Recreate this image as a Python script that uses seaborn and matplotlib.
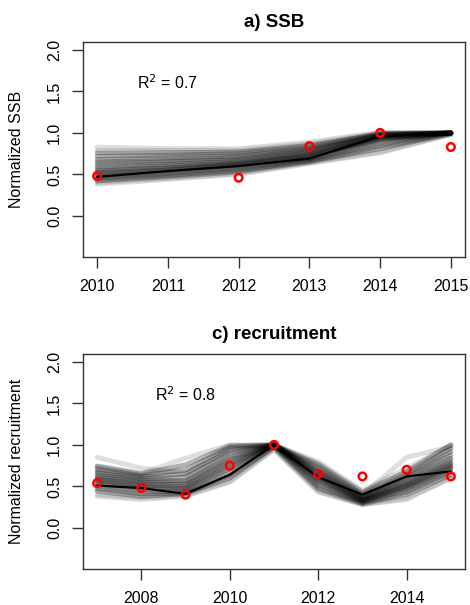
import numpy as np
import pandas as pd
import matplotlib
matplotlib.use("Agg")
import matplotlib.pyplot as plt
import seaborn as sns

# ---- data ----
ssb_years = [2010, 2011, 2012, 2013, 2014, 2015]
ssb_best = [0.47, 0.54, 0.60, 0.69, 0.96, 1.00]
ssb_obs_years = [2010, 2012, 2013, 2014, 2015]
ssb_obs = [0.48, 0.46, 0.84, 1.00, 0.83]
# pale outer trajectories
ssb_runs_outer = [
    [0.83, 0.81, 0.81, 0.89, 1.01, 1.00],
    [0.79, 0.79, 0.79, 0.87, 1.00, 1.00],
    [0.40, 0.45, 0.51, 0.64, 0.77, 0.98],
    [0.38, 0.44, 0.50, 0.63, 0.76, 0.98],
]
# dense core trajectories
ssb_runs = [
    [0.76, 0.76, 0.77, 0.85, 0.99, 1.00],
    [0.72, 0.73, 0.75, 0.83, 0.99, 1.00],
    [0.68, 0.70, 0.72, 0.81, 0.98, 1.00],
    [0.65, 0.67, 0.70, 0.79, 0.97, 1.00],
    [0.62, 0.65, 0.68, 0.78, 0.97, 1.00],
    [0.59, 0.62, 0.66, 0.76, 0.96, 1.00],
    [0.56, 0.60, 0.64, 0.74, 0.95, 1.00],
    [0.54, 0.58, 0.63, 0.73, 0.94, 1.00],
    [0.52, 0.56, 0.62, 0.72, 0.93, 1.00],
    [0.50, 0.55, 0.61, 0.71, 0.92, 1.00],
    [0.48, 0.53, 0.59, 0.69, 0.90, 1.00],
    [0.46, 0.51, 0.57, 0.68, 0.87, 1.00],
    [0.44, 0.49, 0.55, 0.66, 0.84, 0.99],
    [0.42, 0.47, 0.53, 0.65, 0.81, 0.99],
]

rec_years = [2007, 2008, 2009, 2010, 2011, 2012, 2013, 2014, 2015]
rec_best = [0.51, 0.48, 0.41, 0.64, 1.00, 0.61, 0.40, 0.62, 0.68]
rec_obs = [0.54, 0.48, 0.40, 0.75, 1.00, 0.65, 0.62, 0.70, 0.62]
rec_runs_outer = [
    [0.85, 0.72, 0.66, 0.95, 1.00, 0.75, 0.40, 0.85, 0.98],
    [0.75, 0.66, 0.84, 1.00, 1.00, 0.80, 0.45, 0.72, 1.00],
    [0.40, 0.36, 0.39, 0.56, 0.95, 0.44, 0.28, 0.36, 0.60],
    [0.38, 0.34, 0.38, 0.55, 0.94, 0.43, 0.28, 0.34, 0.60],
]
rec_runs = [
    [0.74, 0.65, 0.76, 0.99, 1.00, 0.77, 0.43, 0.68, 1.00],
    [0.71, 0.63, 0.70, 0.97, 1.00, 0.73, 0.40, 0.65, 0.96],
    [0.68, 0.61, 0.65, 0.93, 1.00, 0.70, 0.38, 0.62, 0.92],
    [0.66, 0.59, 0.61, 0.90, 1.00, 0.68, 0.37, 0.60, 0.88],
    [0.63, 0.57, 0.57, 0.86, 1.00, 0.66, 0.36, 0.57, 0.84],
    [0.61, 0.55, 0.55, 0.83, 1.00, 0.64, 0.35, 0.55, 0.81],
    [0.59, 0.53, 0.52, 0.80, 1.00, 0.62, 0.34, 0.53, 0.78],
    [0.57, 0.51, 0.50, 0.77, 1.00, 0.60, 0.33, 0.51, 0.76],
    [0.55, 0.49, 0.48, 0.74, 1.00, 0.58, 0.33, 0.50, 0.74],
    [0.53, 0.47, 0.46, 0.71, 1.00, 0.56, 0.32, 0.48, 0.72],
    [0.50, 0.44, 0.44, 0.67, 1.00, 0.53, 0.31, 0.46, 0.70],
    [0.47, 0.41, 0.42, 0.63, 0.98, 0.50, 0.30, 0.43, 0.67],
    [0.44, 0.38, 0.41, 0.60, 0.97, 0.47, 0.29, 0.40, 0.64],
]

sns.set_style("ticks")
plt.rcParams['font.family'] = ['Liberation Sans', 'DejaVu Sans']
plt.rcParams['text.color'] = 'black'
plt.rcParams['axes.labelcolor'] = 'black'
plt.rcParams['xtick.color'] = 'black'
plt.rcParams['ytick.color'] = 'black'

fig = plt.figure(figsize=(4.7, 6.05), dpi=100)
ax1 = fig.add_axes([0.1766, 0.5752, 0.8128, 0.3554])
ax2 = fig.add_axes([0.1766, 0.0595, 0.8128, 0.3554])


def runs_frame(years, runs):
    rows = []
    for i, r in enumerate(runs):
        for y, v in zip(years, r):
            rows.append({"year": y, "value": v, "run": i})
    return pd.DataFrame(rows)


def panel(ax, years, outer, runs, best, obs_years, obs, title, ylabel, xticks, xlim, r2):
    sns.lineplot(data=runs_frame(years, outer), x="year", y="value", units="run",
                 estimator=None, color="black", alpha=0.13, linewidth=3.5, ax=ax)
    sns.lineplot(data=runs_frame(years, runs), x="year", y="value", units="run",
                 estimator=None, color="black", alpha=0.3, linewidth=3.5, ax=ax)
    sns.lineplot(x=years, y=best, color="black", linewidth=1.6, ax=ax)
    sns.scatterplot(x=obs_years, y=obs, marker="o", s=30, facecolors="none",
                    edgecolor="red", linewidth=1.8, zorder=5, ax=ax)
    ax.set_xlim(*xlim)
    ax.set_ylim(-0.496, 2.096)
    ax.set_xticks(xticks)
    ax.set_yticks([0, 0.5, 1.0, 1.5, 2.0])
    ax.set_yticklabels(["0.0", "0.5", "1.0", "1.5", "2.0"], rotation=90, va="center")
    ax.tick_params(labelsize=11.5, length=8, width=1, color="#333333", pad=7)
    ax.tick_params(axis="x", pad=8)
    for s in ax.spines.values():
        s.set_visible(True)
        s.set_color("#333333")
        s.set_linewidth(1)
    ax.set_title(title, fontsize=13.5, fontweight="bold", pad=11)
    ax.set_ylabel(ylabel, fontsize=11.5, labelpad=17)
    ax.set_xlabel("")
    ax.text(r2[0], r2[1], r2[2], fontsize=11.5, ha="center", va="center")


panel(ax1, ssb_years, ssb_runs_outer, ssb_runs, ssb_best, ssb_obs_years, ssb_obs,
      "a) SSB", "Normalized SSB", [2010, 2011, 2012, 2013, 2014, 2015],
      (2009.8, 2015.2), (2011.0, 1.6, "R$^2$ = 0.7"))
panel(ax2, rec_years, rec_runs_outer, rec_runs, rec_best, rec_years, rec_obs,
      "c) recruitment", "Normalized recruitment", [2008, 2010, 2012, 2014],
      (2006.68, 2015.32), (2009.0, 1.6, "R$^2$ = 0.8"))

fig.savefig("out.png", dpi=100, facecolor="white")
